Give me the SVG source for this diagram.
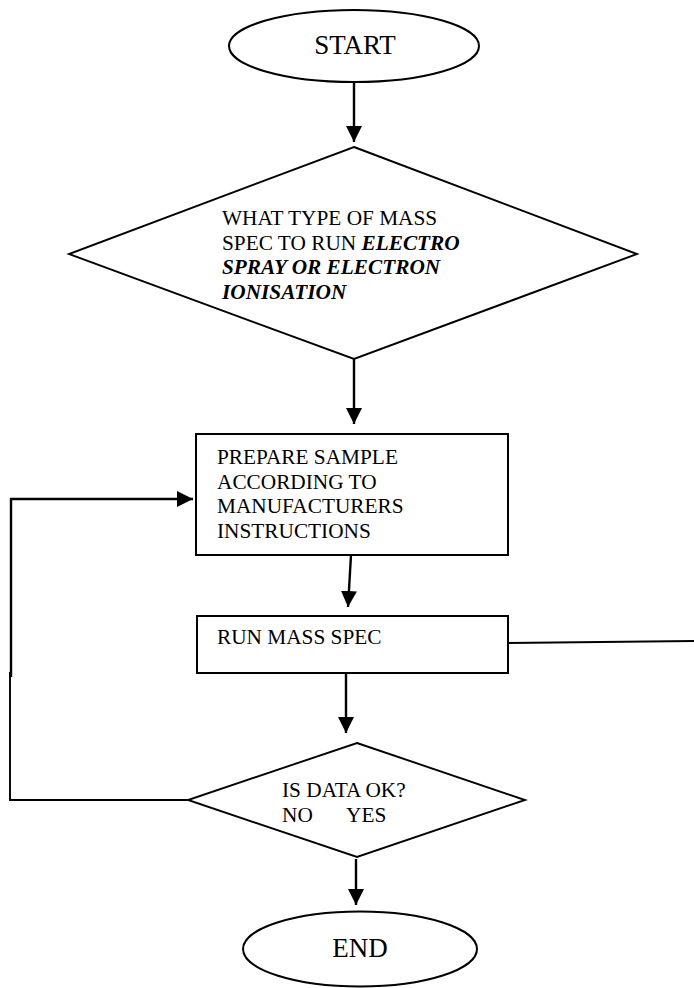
<svg xmlns="http://www.w3.org/2000/svg" width="694" height="988" viewBox="0 0 694 988">
<style>
.shape{fill:#fff;stroke:#000;stroke-width:2}
.dia{fill:#fff;stroke:#000;stroke-width:1.9}
.t{font-family:"Liberation Serif","Times New Roman",serif;font-size:21.3px;fill:#000}
.big{font-family:"Liberation Serif","Times New Roman",serif;font-size:27px;fill:#000}
.bi{font-weight:bold;font-style:italic}
.conn{fill:none;stroke:#000;stroke-width:2.4}
.plain{fill:none;stroke:#000;stroke-width:1.9}
</style>
<defs>
<marker id="ah" markerUnits="userSpaceOnUse" markerWidth="16" markerHeight="16" viewBox="0 0 15 15" refX="15" refY="7.5" orient="auto">
<path d="M0,0 L15,7.5 L0,15 z" fill="#000"/>
</marker>
</defs>
<rect width="694" height="988" fill="#fff"/>
<g id="connectors">
<line class="conn" x1="354" y1="82" x2="354" y2="142" marker-end="url(#ah)"/>
<line class="conn" x1="354" y1="359" x2="354" y2="424" marker-end="url(#ah)"/>
<line class="conn" x1="351" y1="555" x2="348" y2="607" marker-end="url(#ah)"/>
<line class="conn" x1="346" y1="673" x2="346" y2="733" marker-end="url(#ah)"/>
<line class="conn" x1="356" y1="859" x2="356" y2="905" marker-end="url(#ah)"/>
<polyline class="conn" points="11,677 11,499 193,499" marker-end="url(#ah)"/>
<polyline class="plain" points="188,800 10,800 10,672"/>
<line class="plain" x1="508" y1="643" x2="694" y2="641"/>
</g>
<g id="start">
<ellipse class="shape" cx="354" cy="46" rx="125" ry="36"/>
<text class="big" x="355" y="54" text-anchor="middle">START</text>
</g>
<g id="decision-type">
<polygon class="dia" points="354,147 637,254 354,359 69,254"/>
<text class="t" x="222" y="225">WHAT TYPE OF MASS</text>
<text class="t" x="222" y="250">SPEC TO RUN <tspan class="bi">ELECTRO</tspan></text>
<text class="t bi" x="222" y="274">SPRAY OR ELECTRON</text>
<text class="t bi" x="222" y="299">IONISATION</text>
</g>
<g id="prepare">
<rect class="shape" x="196" y="434" width="312" height="121"/>
<text class="t" x="217" y="464">PREPARE SAMPLE</text>
<text class="t" x="217" y="488.5">ACCORDING TO</text>
<text class="t" x="217" y="513">MANUFACTURERS</text>
<text class="t" x="217" y="537.5">INSTRUCTIONS</text>
</g>
<g id="run">
<rect class="shape" x="197" y="616" width="311" height="57"/>
<text class="t" x="217" y="644">RUN MASS SPEC</text>
</g>
<g id="decision-data">
<polygon class="dia" points="357,743 525,800 357,857 188,800"/>
<text class="t" x="282" y="797">IS DATA OK?</text>
<text class="t" x="282" y="822">NO</text>
<text class="t" x="346" y="822">YES</text>
</g>
<g id="end">
<ellipse class="shape" cx="360" cy="949" rx="117" ry="37.5"/>
<text class="big" x="360" y="957" text-anchor="middle">END</text>
</g>
</svg>
